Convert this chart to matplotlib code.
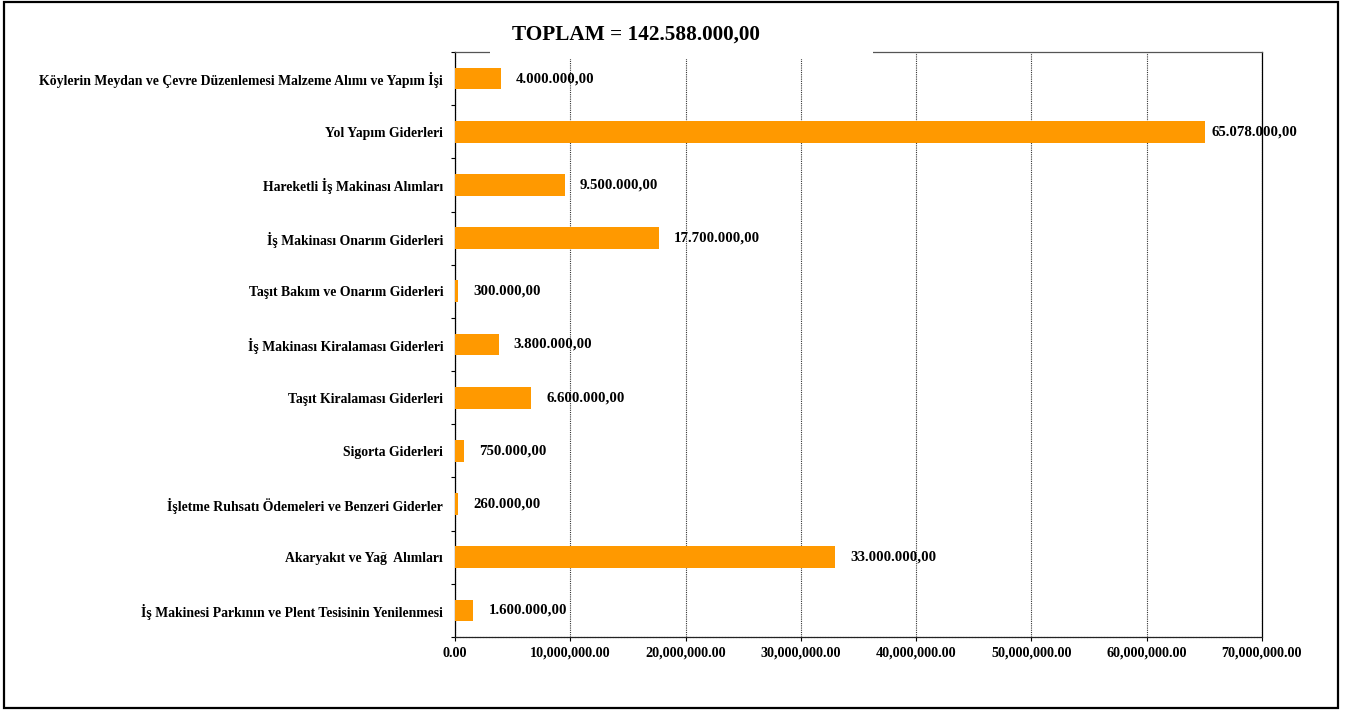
import numpy as np
import matplotlib
matplotlib.use("Agg")
import matplotlib.pyplot as plt
from matplotlib.patches import Rectangle
from matplotlib.ticker import FuncFormatter, FixedLocator


# ------------ data -----------------------------------------
categories = [
    "Köylerin Meydan ve Çevre Düzenlemesi Malzeme Alımı ve Yapım İşi",
    "Yol Yapım Giderleri",
    "Hareketli İş Makinası Alımları",
    "İş Makinası Onarım Giderleri",
    "Taşıt Bakım ve Onarım Giderleri",
    "İş Makinası Kiralaması Giderleri",
    "Taşıt Kiralaması Giderleri",
    "Sigorta Giderleri",
    "İşletme Ruhsatı Ödemeleri ve Benzeri Giderler",
    "Akaryakıt ve Yağ  Alımları",
    "İş Makinesi Parkının ve Plent Tesisinin Yenilenmesi",
]
values = [4000000, 65078000, 9500000, 17700000, 300000, 3800000,
          6600000, 750000, 260000, 33000000, 1600000]
xticks = [0, 10000000, 20000000, 30000000, 40000000, 50000000, 60000000, 70000000]
title = "TOPLAM = 142.588.000,00"


def tr_fmt(v):
    # turkish style: 1.234.567,00
    s = f"{v:,.2f}"
    return s.replace(",", "X").replace(".", ",").replace("X", ".")


plt.rcParams["font.family"] = ["Liberation Serif", "DejaVu Serif"]
plt.rcParams["font.weight"] = "bold"

W, H = 1355, 711
fig = plt.figure(figsize=(W / 100, H / 100), dpi=100)
ax = fig.add_axes([455 / W, 1 - 637 / H, (1262 - 455) / W, (637 - 52) / H])

ypos = np.arange(len(categories))
ax.barh(ypos, values, height=0.41, color="#FF9900", zorder=3)
ax.set_ylim(len(categories) - 0.5, -0.5)
ax.set_xlim(0, 70000000)

labels = []
for y, v in zip(ypos, values):
    t = ax.annotate(tr_fmt(v), (v, y), xytext=(15, 0), textcoords="offset pixels",
                    va="center", ha="left", fontsize=10.7, fontweight="bold", zorder=4)
    labels.append(t)

# excel squeezes a label that would run out of the chart area
fig.canvas.draw()
max_right = 1297
for t in labels:
    bb = t.get_window_extent()
    if bb.x1 > max_right:
        t.set_position((15 - (bb.x1 - max_right), 0))

ax.set_yticks(ypos)
ax.set_yticklabels(categories, fontsize=9.9, fontweight="bold")
ax.yaxis.set_minor_locator(FixedLocator(np.arange(len(categories) + 1) - 0.5))
ax.tick_params(axis="y", which="major", length=0, pad=8.5)
ax.tick_params(axis="y", which="minor", length=3, width=0.8, direction="out")

ax.set_xticks(xticks)
ax.xaxis.set_major_formatter(FuncFormatter(lambda v, p: f"{v:,.2f}"))
ax.tick_params(axis="x", length=3, width=0.8, direction="out", pad=4, labelsize=10.2)
for lab in ax.get_xticklabels():
    lab.set_fontweight("bold")

ax.grid(axis="x", color="#333333", linestyle=(0, (1, 1)), linewidth=0.8, zorder=0)
for s in ax.spines.values():
    s.set_linewidth(0.9)
    s.set_color("black")
ax.spines["top"].set_color("#555555")
ax.spines["bottom"].set_linestyle((0, (1.5, 0.8)))
ax.spines["bottom"].set_color("#222222")

# outer frame
fig.add_artist(Rectangle((4 / W, 1 - 708 / H), (1338 - 4) / W, (708 - 2) / H,
                         transform=fig.transFigure, fill=False,
                         edgecolor="black", linewidth=1.6))

# white title box covering the top of the plot area
fig.add_artist(Rectangle((490 / W, 1 - 59 / H), (873 - 490) / W, (59 - 12) / H,
                         transform=fig.transFigure, facecolor="white",
                         edgecolor="none", zorder=5))
fig.text(636 / W, 1 - 35 / H, title, ha="center", va="center",
         fontsize=15.3, fontweight="bold", zorder=10)

fig.savefig("out.png", dpi=100)
